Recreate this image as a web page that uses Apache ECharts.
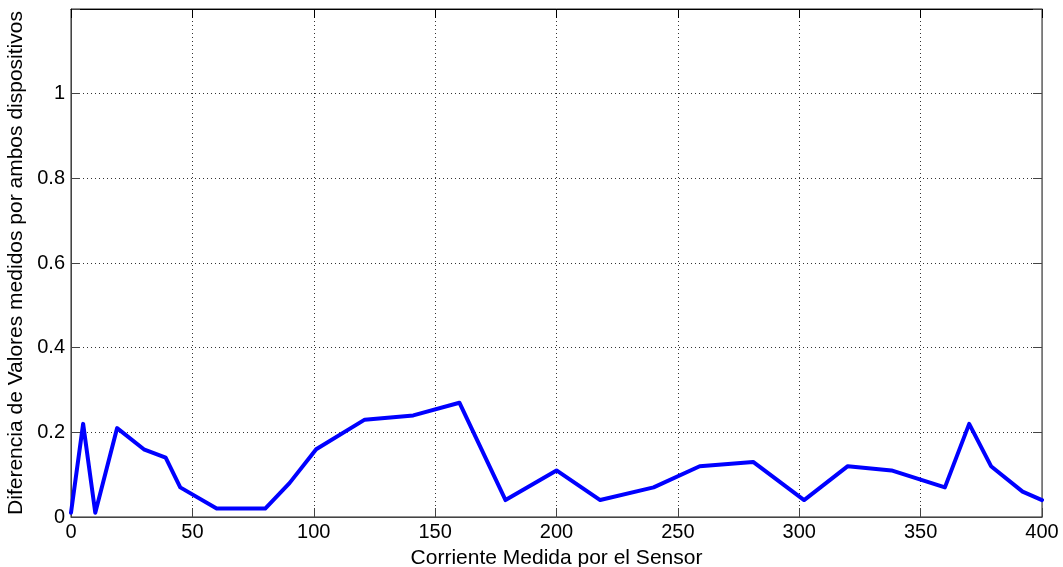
<!DOCTYPE html>
<html>
<head>
<meta charset="utf-8">
<script src="https://cdn.jsdelivr.net/npm/echarts@6/dist/echarts.min.js"></script>
<style>
html,body{margin:0;padding:0;background:#fff;}
#c{width:1063px;height:567px;}
</style>
</head>
<body>
<div id="c"></div>
<script>
var xValues = [0, 5, 10, 19, 30, 39, 45, 60, 80, 90, 101, 121, 141, 160, 179, 200, 218, 240, 259, 281, 302, 320, 338, 360, 370, 379, 392, 400];
var yValues = [0.01, 0.22, 0.01, 0.21, 0.16, 0.14, 0.07, 0.02, 0.02, 0.08, 0.16, 0.23, 0.24, 0.27, 0.04, 0.11, 0.04, 0.07, 0.12, 0.13, 0.04, 0.12, 0.11, 0.07, 0.22, 0.12, 0.06, 0.04];
var xTitle = 'Corriente Medida por el Sensor';
var yTitle = 'Diferencia de Valores medidos por ambos dispositivos';

var points = xValues.map(function (x, i) { return [x, yValues[i]]; });
var font = "'Liberation Sans', Arial, sans-serif";
var axisColor = '#444';
var chart = echarts.init(document.getElementById('c'), null, {renderer: 'canvas'});
chart.setOption({
  animation: false,
  backgroundColor: '#fff',
  grid: {left: 71, right: 21, top: 9, bottom: 50, containLabel: false, outerBoundsMode: 'none',
         show: true, borderColor: '#222', borderWidth: 1, backgroundColor: 'transparent'},
  xAxis: [{
    type: 'value', min: 0, max: 400, interval: 50, position: 'bottom',
    name: xTitle, nameLocation: 'middle', nameGap: 31,
    nameTextStyle: {fontFamily: font, fontSize: 21, color: '#000'},
    axisLine: {show: true, onZero: false, lineStyle: {color: axisColor, width: 1}},
    axisTick: {show: true, inside: true, length: 9, lineStyle: {color: axisColor}},
    axisLabel: {fontFamily: font, fontSize: 20, color: '#000', margin: 5},
    splitLine: {show: true, lineStyle: {type: [1, 3], color: '#333', width: 1}}
  }, {
    type: 'value', min: 0, max: 400, interval: 50, position: 'top',
    axisLine: {show: true, onZero: false, lineStyle: {color: '#000', width: 1}},
    axisTick: {show: true, inside: true, length: 9, lineStyle: {color: '#000'}},
    axisLabel: {show: false},
    splitLine: {show: false}
  }],
  yAxis: [{
    type: 'value', min: 0, max: 1.2, interval: 0.2, position: 'left',
    name: yTitle, nameLocation: 'middle', nameGap: 37,
    nameTextStyle: {fontFamily: font, fontSize: 21, color: '#000'},
    axisLine: {show: true, onZero: false, lineStyle: {color: axisColor, width: 1}},
    axisTick: {show: true, inside: true, length: 9, lineStyle: {color: axisColor}},
    axisLabel: {fontFamily: font, fontSize: 20, color: '#000', margin: 6,
      formatter: function (v) { return v > 1.1 ? '' : String(Math.round(v * 10) / 10); }},
    splitLine: {show: true, lineStyle: {type: [1, 3], color: '#333', width: 1}}
  }, {
    type: 'value', min: 0, max: 1.2, interval: 0.2, position: 'right',
    axisLine: {show: true, onZero: false, lineStyle: {color: '#777', width: 1}},
    axisTick: {show: true, inside: true, length: 9, lineStyle: {color: axisColor}},
    axisLabel: {show: false},
    splitLine: {show: false}
  }],
  series: [{
    type: 'line',
    xAxisIndex: 0, yAxisIndex: 0,
    data: points,
    showSymbol: false,
    symbol: 'none',
    lineStyle: {color: '#0000ff', width: 4, join: 'round', cap: 'round'},
    itemStyle: {color: '#0000ff'},
    z: 5
  }, {
    type: 'line',
    xAxisIndex: 1, yAxisIndex: 1,
    data: [],
    symbol: 'none',
    silent: true
  }]
});
</script>
</body>
</html>
